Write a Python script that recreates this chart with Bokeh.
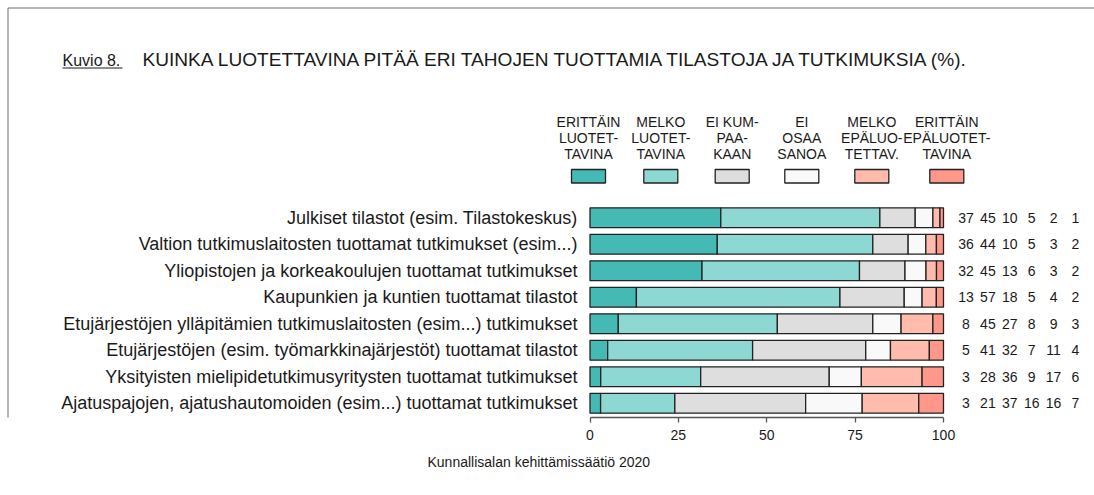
from bokeh.plotting import figure
from bokeh.models import Range1d, FixedTicker, ColumnDataSource, Title
from bokeh.embed import file_html
from bokeh.resources import INLINE
from bokeh.core.properties import value

# ---------------- data ----------------
categories = [
    "Julkiset tilastot (esim. Tilastokeskus)",
    "Valtion tutkimuslaitosten tuottamat tutkimukset (esim...)",
    "Yliopistojen ja korkeakoulujen tuottamat tutkimukset",
    "Kaupunkien ja kuntien tuottamat tilastot",
    "Etujärjestöjen ylläpitämien tutkimuslaitosten (esim...) tutkimukset",
    "Etujärjestöjen (esim. työmarkkinajärjestöt) tuottamat tilastot",
    "Yksityisten mielipidetutkimusyritysten tuottamat tutkimukset",
    "Ajatuspajojen, ajatushautomoiden (esim...) tuottamat tutkimukset",
]
erittain_luotettavina = [37, 36, 32, 13, 8, 5, 3, 3]
melko_luotettavina = [45, 44, 45, 57, 45, 41, 28, 21]
ei_kumpaakaan = [10, 10, 13, 18, 27, 32, 36, 37]
ei_osaa_sanoa = [5, 5, 6, 5, 8, 7, 9, 16]
melko_epaluotettavina = [2, 3, 3, 4, 9, 11, 17, 16]
erittain_epaluotettavina = [1, 2, 2, 2, 3, 4, 6, 7]

legend_lines = [
    ["ERITTÄIN", "LUOTET-", "TAVINA"],
    ["MELKO", "LUOTET-", "TAVINA"],
    ["EI KUM-", "PAA-", "KAAN"],
    ["EI", "OSAA", "SANOA"],
    ["MELKO", "EPÄLUO-", "TETTAV."],
    ["ERITTÄIN", "EPÄLUOTET-", "TAVINA"],
]
x_ticks = [0, 25, 50, 75, 100]
title_prefix = "Kuvio 8."
title_text = "KUINKA LUOTETTAVINA PITÄÄ ERI TAHOJEN TUOTTAMIA TILASTOJA JA TUTKIMUKSIA (%)."
footer_text = "Kunnallisalan kehittämissäätiö 2020"

# ---------------- styles / layout ----------------
colors = ["#45b9b4", "#8ed8d3", "#dedede", "#f9f9f9", "#ffbcad", "#ff978a"]
FONT = "Liberation Sans"
TXT = "#1a1a1a"
EDGE = "#222222"
FRAME_COL = "#6e6e6e"

series = [erittain_luotettavina, melko_luotettavina, ei_kumpaakaan,
          ei_osaa_sanoa, melko_epaluotettavina, erittain_epaluotettavina]
n = len(categories)

W, H = 1094, 495
FRAME_BOTTOM = 417          # pixel row of the x axis line
X0_PX, XS = 589.5, 3.535    # pixel of value 0, pixels per percent
Y0_PX, YS = 204.0, 26.5     # pixel of top of first row, pixels per row


def dx(px):
    return (px - X0_PX) / XS


def dy(py):
    return (py - Y0_PX) / YS


p = figure(width=W, height=H, output_backend="svg", toolbar_location=None,
           x_range=Range1d(dx(0), dx(W)), y_range=Range1d(dy(FRAME_BOTTOM), dy(0)),
           y_axis_location=None,
           min_border_left=0, min_border_right=0, min_border_top=0,
           min_border_bottom=H - FRAME_BOTTOM,
           outline_line_color=None, background_fill_color="white",
           border_fill_color="white")
p.grid.visible = False

# ---------------- page frame (top / left edges) ----------------
p.segment(x0=[dx(7.5), dx(7.5)], y0=[dy(7.5), dy(7.5)],
          x1=[dx(W + 5), dx(7.5)], y1=[dy(7.5), dy(FRAME_BOTTOM + 5)],
          line_color=FRAME_COL, line_width=1)

# ---------------- stacked bars ----------------
ys = [i + 0.5 for i in range(n)]
totals = [sum(s[i] for s in series) for i in range(n)]
lefts = [0.0] * n
for s, c in zip(series, colors):
    rights = [lefts[i] + s[i] * 100.0 / totals[i] for i in range(n)]
    src = ColumnDataSource(dict(y=ys, left=lefts, right=rights))
    p.hbar(y="y", left="left", right="right", height=0.75, source=src,
           fill_color=c, line_color=EDGE, line_width=1.3)
    lefts = rights

# category labels
p.text(x=[dx(577)] * n, y=ys, text=categories, text_align="right",
       text_baseline="middle", text_font=value(FONT), text_font_size="18px",
       text_color=TXT)

# ---------------- x axis ----------------
xa = p.xaxis[0]
xa.ticker = FixedTicker(ticks=x_ticks)
xa.bounds = (x_ticks[0], x_ticks[-1])
xa.axis_line_color = "#555555"
xa.axis_line_width = 1.3
xa.major_tick_line_color = "#555555"
xa.major_tick_line_width = 1.3
xa.major_tick_in = 0
xa.major_tick_out = 5
xa.minor_tick_line_color = None
xa.major_label_text_font = FONT
xa.major_label_text_font_size = "14px"
xa.major_label_text_color = TXT
xa.major_label_standoff = 7

# ---------------- value columns on the right ----------------
col_x0, col_dx = 965.5, 21.9
nx, ny, nt = [], [], []
for j, s in enumerate(series):
    for i in range(n):
        nx.append(dx(col_x0 + col_dx * j))
        ny.append(ys[i])
        nt.append(str(s[i]))
p.text(x=nx, y=ny, text=nt, text_align="center", text_baseline="middle",
       text_font=value(FONT), text_font_size="14px", text_color=TXT)

# ---------------- legend ----------------
leg_cx = [588, 660.3, 731.7, 801.3, 871.3, 946.3]
line_y = [121.7, 137.5, 153.3]
lx, lyy, lt = [], [], []
for k, lines in enumerate(legend_lines):
    for m, t in enumerate(lines):
        lx.append(dx(leg_cx[k]))
        lyy.append(dy(line_y[m]))
        lt.append(t)
p.text(x=lx, y=lyy, text=lt, text_align="center", text_baseline="middle",
       text_font=value(FONT), text_font_size="14px", text_color=TXT)
p.quad(left=[dx(c - 17) for c in leg_cx], right=[dx(c + 17) for c in leg_cx],
       top=[dy(169)] * len(leg_cx), bottom=[dy(182.5)] * len(leg_cx),
       fill_color=colors, line_color=EDGE, line_width=1.3)

# ---------------- titles ----------------
p.text(x=[dx(62)], y=[dy(59.5)], text=[title_prefix], text_align="left",
       text_baseline="middle", text_font=value(FONT), text_font_size="16px",
       text_color=TXT)
p.segment(x0=[dx(62)], y0=[dy(67.5)], x1=[dx(122)], y1=[dy(67.5)],
          line_color=TXT, line_width=1)
p.text(x=[dx(142)], y=[dy(59)], text=[title_text], text_align="left",
       text_baseline="middle", text_font=value(FONT), text_font_size="19.1px",
       text_color=TXT)

# footer below the axis
p.add_layout(Title(text=footer_text, align="left", offset=427, standoff=19,
                   text_font=FONT, text_font_size="14px", text_font_style="normal",
                   text_color=TXT), "below")

open("out.html", "w").write(file_html(p, INLINE))
